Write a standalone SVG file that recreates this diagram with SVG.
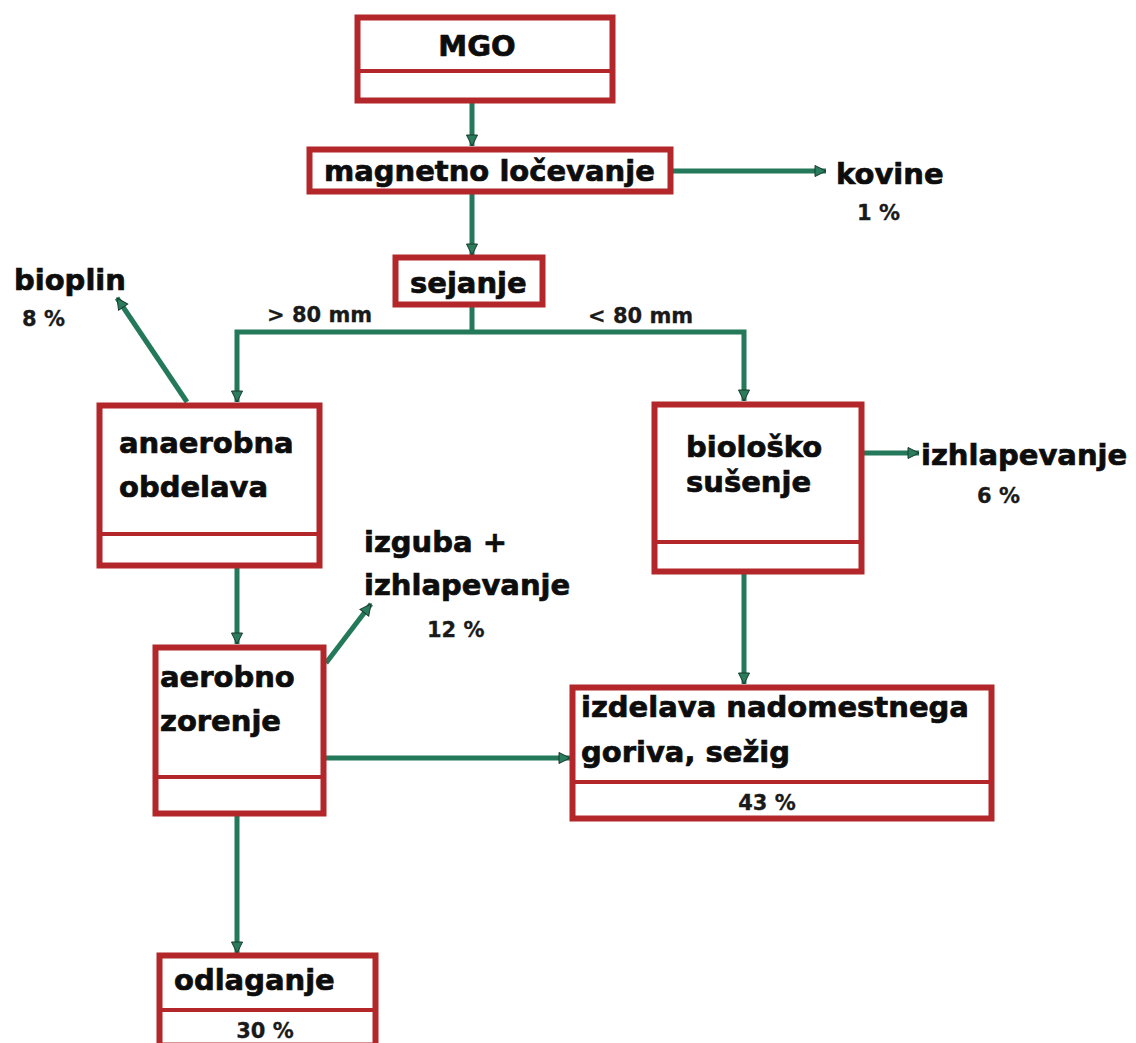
<svg xmlns="http://www.w3.org/2000/svg" width="1136" height="1043" viewBox="0 0 1136 1043">
<defs>
<style>
.box{fill:#fff;stroke:#b3262a;stroke-width:6}
.div{stroke:#b3262a;stroke-width:4}
.t{font-family:"DejaVu Sans",sans-serif;font-weight:bold;font-size:29px;fill:#0d0d0d;stroke:#0d0d0d;stroke-width:0.7}
.s{font-family:"DejaVu Sans",sans-serif;font-weight:bold;font-size:21px;fill:#1a1a1a;stroke:#1a1a1a;stroke-width:0.3}
.c{fill:none;stroke:#23795a;stroke-width:5}
.a{marker-end:url(#ah)}
</style>
<marker id="ah" markerUnits="userSpaceOnUse" markerWidth="13" markerHeight="13" refX="12" refY="6.5" orient="auto" viewBox="0 0 13 13">
<path d="M1,1 L12,6.5 L1,12 Z" fill="#2a7d5c" stroke="#1b3a2c" stroke-width="1"/>
</marker>
</defs>
<rect width="1136" height="1043" fill="#fff"/>
<g id="connectors">
<line class="c a" x1="472" y1="102" x2="472" y2="146"/>
<line class="c a" x1="673" y1="171" x2="826" y2="171"/>
<line class="c a" x1="472" y1="193" x2="472" y2="255"/>
<polyline class="c" points="472,307 472,332"/>
<polyline class="c a" points="472,332 237,332 237,402"/>
<polyline class="c a" points="472,332 744,332 744,401"/>
<line class="c a" x1="187" y1="402" x2="117" y2="298"/>
<line class="c a" x1="863" y1="453" x2="919" y2="453"/>
<line class="c a" x1="237" y1="567" x2="237" y2="644"/>
<line class="c a" x1="744" y1="573" x2="744" y2="684"/>
<line class="c a" x1="326" y1="663" x2="371" y2="604"/>
<line class="c a" x1="325" y1="758" x2="570" y2="758"/>
<line class="c a" x1="237" y1="815" x2="237" y2="953"/>
</g>
<g id="mgo">
<rect class="box" x="357.5" y="17.5" width="255" height="83"/>
<line class="div" x1="357" y1="71" x2="613" y2="71"/>
<text class="t" x="477" y="56" text-anchor="middle">MGO</text>
</g>
<g id="magnetno">
<rect class="box" x="309.5" y="149.5" width="361" height="42"/>
<text class="t" x="324" y="181">magnetno ločevanje</text>
</g>
<g id="kovine">
<text class="t" x="836" y="184">kovine</text>
<text class="s" x="857" y="220">1 %</text>
</g>
<g id="sejanje">
<rect class="box" x="395.5" y="257.5" width="147" height="47"/>
<text class="t" x="410" y="293">sejanje</text>
</g>
<g id="labels">
<text class="s" x="267" y="322">&gt; 80 mm</text>
<text class="s" x="588" y="323">&lt; 80 mm</text>
</g>
<g id="bioplin">
<text class="t" x="14" y="290">bioplin</text>
<text class="s" x="22" y="326">8 %</text>
</g>
<g id="anaerobna">
<rect class="box" x="99.5" y="405.5" width="220" height="160"/>
<line class="div" x1="99" y1="534" x2="320" y2="534"/>
<text class="t" x="119" y="453">anaerobna</text>
<text class="t" x="119" y="497">obdelava</text>
</g>
<g id="biolosko">
<rect class="box" x="654.5" y="404.5" width="207" height="167"/>
<line class="div" x1="654" y1="542" x2="862" y2="542"/>
<text class="t" x="686" y="457">biološko</text>
<text class="t" x="686" y="492">sušenje</text>
</g>
<g id="izhlapevanje">
<text class="t" x="921" y="465">izhlapevanje</text>
<text class="s" x="977" y="503">6 %</text>
</g>
<g id="izguba">
<text class="t" x="364" y="552">izguba +</text>
<text class="t" x="364" y="595">izhlapevanje</text>
<text class="s" x="427" y="637">12 %</text>
</g>
<g id="aerobno">
<rect class="box" x="155.5" y="647.5" width="168" height="166"/>
<line class="div" x1="155" y1="777" x2="324" y2="777"/>
<text class="t" x="160" y="687">aerobno</text>
<text class="t" x="160" y="731">zorenje</text>
</g>
<g id="izdelava">
<rect class="box" x="572.5" y="687.5" width="419" height="131"/>
<line class="div" x1="572" y1="782" x2="992" y2="782"/>
<text class="t" x="581" y="717">izdelava nadomestnega</text>
<text class="t" x="581" y="762">goriva, sežig</text>
<text class="s" x="767" y="810" text-anchor="middle">43 %</text>
</g>
<g id="odlaganje">
<rect class="box" x="159.5" y="955.5" width="216" height="90"/>
<line class="div" x1="159" y1="1010" x2="376" y2="1010"/>
<text class="t" x="174" y="990">odlaganje</text>
<text class="s" x="265" y="1038" text-anchor="middle">30 %</text>
</g>
</svg>
